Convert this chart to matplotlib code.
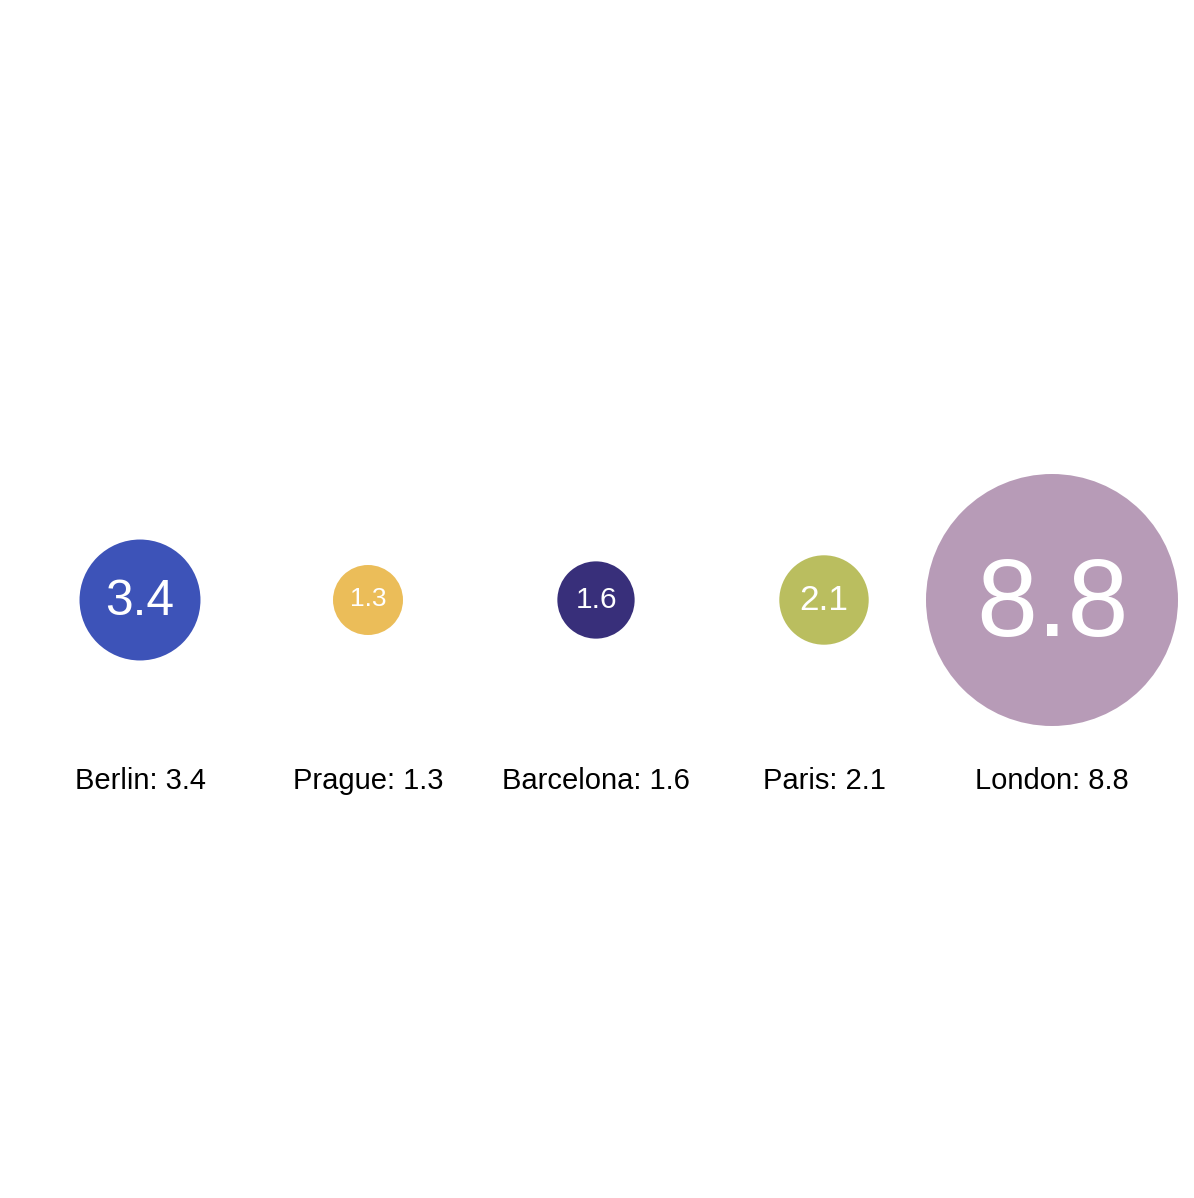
import numpy as np
import matplotlib
matplotlib.use("Agg")
import matplotlib.pyplot as plt
from matplotlib.patches import Circle

plt.rcParams['font.family'] = ['Liberation Sans', 'DejaVu Sans']

# data
cities = ["Berlin", "Prague", "Barcelona", "Paris", "London"]
values = [3.4, 1.3, 1.6, 2.1, 8.8]
colors = ["#3d53b8", "#ebbd59", "#382f7a", "#babe5f", "#b79bb7"]

# layout (pixel based, 228 px between bubble centres)
step = 228.0
r_min, r_max = 35.0, 126.0      # bubble radius px
f_min, f_max = 19.0, 79.0       # value font size pt

fig = plt.figure(figsize=(11.94, 11.98), dpi=100)
ax = fig.add_axes([0, 0, 1, 1])
ax.set_xlim(-140 / step, (1194 - 140) / step)
ax.set_ylim(-598 / step, 600 / step)
ax.set_aspect('equal')
ax.axis('off')

v = np.array(values)
t = (v - v.min()) / (v.max() - v.min())
radii = (r_min + t * (r_max - r_min)) / step
fsizes = f_min + t * (f_max - f_min)

for i, (city, val, col) in enumerate(zip(cities, values, colors)):
    ax.add_patch(Circle((i, 0), radii[i], facecolor=col, edgecolor='none'))
    # centre the digits (cap height ~0.716 em) on the bubble centre
    cap = fsizes[i] * 100 / 72 * 0.716 / step
    ax.text(i, -cap / 2 + 3 / step, f"{val}", color='white', fontsize=fsizes[i],
            ha='center', va='baseline')
    ax.text(i, -189 / step, f"{city}: {val}", color='black', fontsize=21,
            ha='center', va='baseline')

fig.savefig("out.png", dpi=100, facecolor='white')
